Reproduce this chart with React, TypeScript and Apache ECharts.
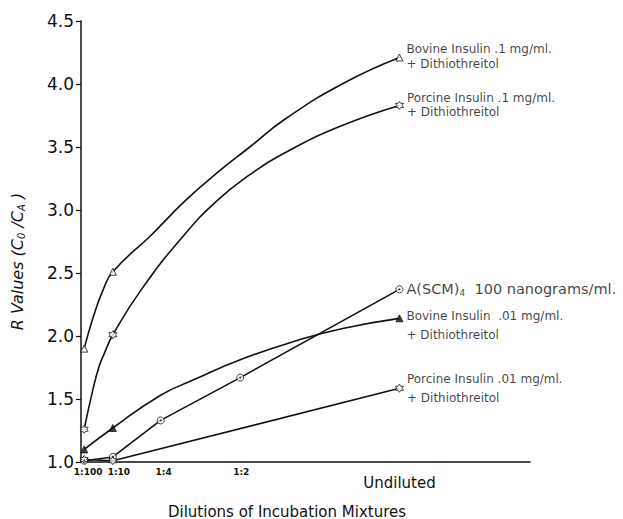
import React, { useEffect, useRef } from "react";
import * as echarts from "echarts";

// x = dilution fraction of the incubation mixture
const dilutionValues = [0.01, 0.1, 0.25, 0.5, 1];
const dilutionLabels = ["1:100", "1:10", "1:4", "1:2", "Undiluted"];
const yTicks = [1.0, 1.5, 2.0, 2.5, 3.0, 3.5, 4.0, 4.5];

// Measured points (markers)
const bovine1Points = [[0.01, 1.9], [0.1, 2.51], [1, 4.21]];
const porcine1Points = [[0.01, 1.26], [0.1, 2.01], [1, 3.83]];
const ascmPoints = [[0.01, 1.01], [0.1, 1.04], [0.25, 1.33], [0.5, 1.67], [1, 2.37]];
const bovine01Points = [[0.01, 1.1], [0.1, 1.27], [1, 2.14]];
const porcine01Points = [[0.01, 1.02], [0.1, 1.01], [1, 1.585]];

// Drawn curves
const bovine1Curve = [[0.01, 1.9], [0.0385, 2.15], [0.07, 2.37], [0.1, 2.51], [0.22, 2.8], [0.33, 3.08], [0.43, 3.3], [0.53, 3.5], [0.64, 3.72], [0.82, 4.0], [1, 4.21]];
const porcine1Curve = [[0.01, 1.26], [0.037, 1.57], [0.057, 1.76], [0.073, 1.86], [0.1, 2.01], [0.19, 2.37], [0.32, 2.79], [0.43, 3.08], [0.53, 3.28], [0.63, 3.44], [0.81, 3.66], [1, 3.83]];
const bovine01Curve = [[0.01, 1.1], [0.1, 1.27], [0.25, 1.53], [0.352, 1.65], [0.498, 1.81], [0.686, 1.97], [0.822, 2.06], [1, 2.14]];

const bovine1Label = "Bovine Insulin .1 mg/ml.\n+ Dithiothreitol";
const porcine1Label = "Porcine Insulin .1 mg/ml.\n+ Dithiothreitol";
const ascmLabel = "A(SCM){sub|4}  100 nanograms/ml.";
const bovine01Label = "Bovine Insulin  .01 mg/ml.\n+ Dithiothreitol";
const porcine01Label = "Porcine Insulin .01 mg/ml.\n+ Dithiothreitol";

const INK = "#111";
const STAR = "path://M0,-10 L2.9,-5 L8.66,-5 L5.77,0 L8.66,5 L2.9,5 L0,10 L-2.9,5 L-8.66,5 L-5.77,0 L-8.66,-5 L-2.9,-5 Z";

function lineSeries(data: number[][], smooth: boolean | number) {
  return {
    type: "line",
    data,
    smooth,
    showSymbol: false,
    symbol: "none",
    lineStyle: { color: INK, width: 1.6 },
    z: 2,
    silent: true,
  };
}

function markerSeries(
  data: number[][],
  symbol: string,
  size: number,
  filled: boolean,
  label: string,
  labelOffset: number[] = [0, 0],
  fontSize = 12,
  lineHeight = 16
) {
  const last = data.length - 1;
  return {
    type: "scatter",
    symbol,
    symbolSize: size,
    itemStyle: { color: filled ? INK : "#fff", borderColor: INK, borderWidth: 1 },
    z: 3,
    data: data.map((p, i) =>
      i === last
        ? {
            value: p,
            label: {
              show: true,
              position: "right",
              distance: 3,
              offset: labelOffset,
              formatter: label,
              color: INK,
              fontFamily: "DejaVu Sans",
              fontSize,
              lineHeight,
              rich: {
                sub: { fontSize: 9, verticalAlign: "bottom", padding: [7, 0, 0, 0], fontFamily: "DejaVu Sans", color: INK },
              },
            },
          }
        : p
    ),
  };
}

const smallShift = [8, 12, 6, 2];

export default function App() {
  const ref = useRef<HTMLDivElement>(null);
  useEffect(() => {
    if (!ref.current) return;
    const chart = echarts.init(ref.current, null, { renderer: "svg" });
    chart.setOption({
      animation: false,
      backgroundColor: "#fff",
      grid: { left: 81, right: 93, top: 21, bottom: 57, containLabel: false, outerBoundsMode: "none" },
      xAxis: {
        type: "value",
        min: 0,
        max: 1.41,
        name: "Dilutions of Incubation Mixtures",
        nameLocation: "middle",
        nameGap: 42,
        nameTextStyle: { fontFamily: "DejaVu Sans", fontSize: 15, color: INK, padding: [0, 37, 0, 0] },
        axisLine: { lineStyle: { color: INK, width: 1.5 } },
        axisTick: { show: false },
        splitLine: { show: false },
        axisLabel: {
          customValues: dilutionValues,
          margin: 5,
          formatter: (v: number) => {
            const i = dilutionValues.findIndex((d) => Math.abs(d - v) < 1e-6);
            if (i < 0) return "";
            return i === dilutionLabels.length - 1 ? `{big|${dilutionLabels[i]}}` : `{s${i}|${dilutionLabels[i]}}`;
          },
          rich: {
            s0: { fontFamily: "DejaVu Sans", fontSize: 9, fontWeight: "bold", color: INK, padding: [0, 0, 0, smallShift[0]] },
            s1: { fontFamily: "DejaVu Sans", fontSize: 9, fontWeight: "bold", color: INK, padding: [0, 0, 0, smallShift[1]] },
            s2: { fontFamily: "DejaVu Sans", fontSize: 9, fontWeight: "bold", color: INK, padding: [0, 0, 0, smallShift[2]] },
            s3: { fontFamily: "DejaVu Sans", fontSize: 9, fontWeight: "bold", color: INK, padding: [0, 0, 0, smallShift[3]] },
            big: { fontFamily: "DejaVu Sans", fontSize: 15, color: INK, padding: [8, 0, 0, 0] },
          },
        },
      },
      yAxis: {
        type: "value",
        min: 1,
        max: 4.5,
        interval: 0.5,
        name: "R Values (C{sub|0} /C{sub|A} )",
        nameLocation: "middle",
        nameGap: 55,
        nameTextStyle: {
          fontFamily: "DejaVu Sans",
          fontStyle: "italic",
          fontSize: 16,
          color: INK,
          padding: [0, 40, 0, 0],
          rich: {
            sub: { fontFamily: "DejaVu Sans", fontStyle: "italic", fontSize: 10, color: INK, verticalAlign: "bottom", padding: [8, 0, 0, 0] },
          },
        },
        axisLine: { show: true, lineStyle: { color: INK, width: 1.5 } },
        axisTick: { show: true, length: 5, lineStyle: { color: INK, width: 1.2 } },
        splitLine: { show: false },
        axisLabel: {
          margin: 7,
          fontFamily: "DejaVu Sans",
          fontSize: 17,
          color: INK,
          formatter: (v: number) => (yTicks.some((t) => Math.abs(t - v) < 1e-6) ? v.toFixed(1) : ""),
        },
      },
      series: [
        lineSeries(bovine1Curve, 0.5),
        lineSeries(porcine1Curve, 0.5),
        lineSeries(ascmPoints, false),
        lineSeries(bovine01Curve, 0.5),
        lineSeries(porcine01Points, false),
        markerSeries(bovine1Points, "triangle", 7, false, bovine1Label, [0, -1], 12, 15),
        markerSeries(porcine1Points, STAR, 8, false, porcine1Label, [0, 0], 12, 14),
        markerSeries(ascmPoints, "circle", 7, false, ascmLabel, [0, 0], 14.5, 16),
        {
          type: "scatter",
          symbol: "circle",
          symbolSize: 2,
          itemStyle: { color: INK },
          z: 4,
          silent: true,
          data: ascmPoints,
        },
        markerSeries(bovine01Points, "triangle", 7, true, bovine01Label, [0, 7], 12, 19),
        markerSeries(porcine01Points, STAR, 8, false, porcine01Label, [0, 0], 12, 19),
      ],
    });
    return () => chart.dispose();
  }, []);
  return <div ref={ref} style={{ width: 623, height: 519, position: "absolute", left: 0, top: 0 }} />;
}
